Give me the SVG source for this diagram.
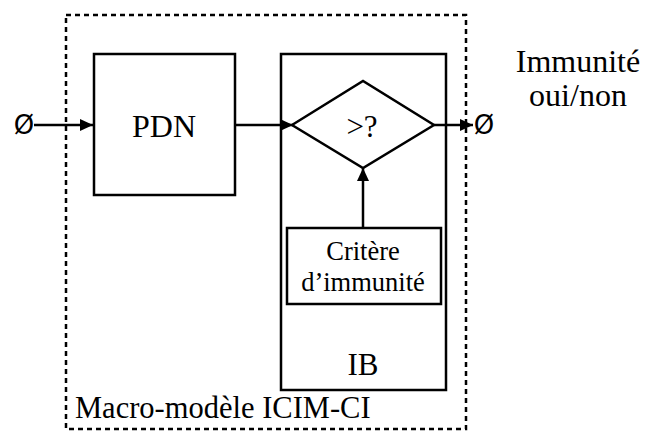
<svg xmlns="http://www.w3.org/2000/svg" width="646" height="431" viewBox="0 0 646 431">
<style>
.box{fill:#fff;stroke:#000;stroke-width:2.5}
.ln{fill:none;stroke:#000;stroke-width:2.5}
.t{font-family:"Liberation Serif","Times New Roman",serif;fill:#000;text-anchor:middle}
.s{font-family:"DejaVu Sans","Liberation Sans",sans-serif;fill:#000;text-anchor:middle}
</style>
<defs>
<marker id="ah" markerWidth="13" markerHeight="12" refX="13" refY="6" orient="auto" markerUnits="userSpaceOnUse">
<path d="M0,0 L13,6 L0,12 Z" fill="#000"/>
</marker>
</defs>
<rect x="66" y="15" width="400" height="414" fill="none" stroke="#000" stroke-width="2.5" stroke-dasharray="5,4"/>
<g id="pdn">
<rect class="box" x="94" y="54" width="141" height="141"/>
<text class="t" x="164" y="137" font-size="32">PDN</text>
</g>
<g id="ib">
<rect class="box" x="281" y="54" width="165" height="336"/>
<text class="t" x="363" y="375" font-size="31">IB</text>
</g>
<g id="compare">
<polygon class="box" points="292,125 363,81 434,125 363,168"/>
<text class="t" x="362" y="137" font-size="31">&gt;?</text>
</g>
<g id="critere">
<rect class="box" x="287" y="228" width="154" height="76"/>
<text class="t" x="363" y="260" font-size="26.5">Critère</text>
<text class="t" x="363" y="291" font-size="26.5">d’immunité</text>
</g>
<g id="in">
<text class="s" x="24" y="134" font-size="26">Ø</text>
</g>
<g id="out">
<text class="s" x="484" y="134" font-size="26">Ø</text>
<text class="t" x="578" y="72" font-size="32">Immunité</text>
<text class="t" x="578" y="106" font-size="32">oui/non</text>
</g>
<g id="label">
<text class="t" x="75" y="418" font-size="30.5" style="text-anchor:start">Macro-modèle ICIM-CI</text>
</g>
<g id="connectors">
<line class="ln" x1="34" y1="125" x2="93" y2="125" marker-end="url(#ah)"/>
<line class="ln" x1="235" y1="125" x2="293" y2="125" marker-end="url(#ah)"/>
<line class="ln" x1="434" y1="125" x2="473" y2="125" marker-end="url(#ah)"/>
<line class="ln" x1="363" y1="228" x2="363" y2="168" marker-end="url(#ah)"/>
</g>
</svg>
